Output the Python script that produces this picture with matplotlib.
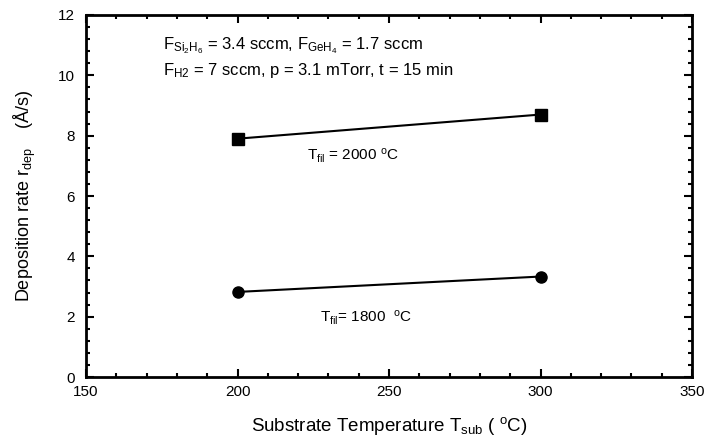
import matplotlib
matplotlib.use("Agg")
import matplotlib.pyplot as plt
from matplotlib.ticker import MultipleLocator

plt.rcParams['font.family'] = ['Liberation Sans', 'DejaVu Sans']
plt.rcParams['mathtext.fontset'] = 'custom'
plt.rcParams['mathtext.rm'] = 'Liberation Sans'
plt.rcParams['mathtext.it'] = 'Liberation Sans:italic'
plt.rcParams['mathtext.bf'] = 'Liberation Sans:bold'

t_sub = [200, 300]
rate_2000 = [7.9, 8.7]
rate_1800 = [2.82, 3.33]

fig = plt.figure(figsize=(7.04, 4.4), dpi=100)
ax = fig.add_axes([86/704, 1-377/440, (692-86)/704, (377-15)/440])

ax.plot(t_sub, rate_2000, color='black', lw=1.5, marker='s', ms=8, mfc='black', mec='black')
ax.plot(t_sub, rate_1800, color='black', lw=1.5, marker='o', ms=8, mfc='black', mec='black')

ax.set_xlim(150, 350)
ax.set_ylim(0, 12)
ax.xaxis.set_major_locator(MultipleLocator(50))
ax.xaxis.set_minor_locator(MultipleLocator(10))
ax.yaxis.set_major_locator(MultipleLocator(2))
ax.yaxis.set_minor_locator(MultipleLocator(0.4))
ax.tick_params(which='both', direction='in', top=True, right=True, width=1.5, labelsize=11)
ax.tick_params(which='major', length=6)
ax.tick_params(which='minor', length=3)
ax.tick_params(axis='x', pad=6)
ax.tick_params(axis='y', pad=8)
for s in ax.spines.values():
    s.set_linewidth(2)

ax.set_xlabel(r'Substrate Temperature T$_{\mathregular{sub}}$ ( $^{\mathregular{o}}$C)', fontsize=13.5, labelpad=11)
ax.set_ylabel(r'Deposition rate r$_{\mathregular{dep}}$    (Å/s)', fontsize=13, labelpad=14)

def fx(px):
    return px/704
def fy(py):
    return 1-py/440

fig.text(fx(163), fy(46), r'F$_{\mathregular{Si_2H_6}}$ = 3.4 sccm, F$_{\mathregular{GeH_4}}$ = 1.7 sccm',
         fontsize=12, va='center', ha='left')
fig.text(fx(163), fy(70), r'F$_{\mathregular{H2}}$ = 7 sccm, p = 3.1 mTorr, t = 15 min',
         fontsize=12, va='center', ha='left')
fig.text(fx(307), fy(156), r'T$_{\mathregular{fil}}$ = 2000 $^{\mathregular{o}}$C',
         fontsize=11, va='center', ha='left')
fig.text(fx(320), fy(318), r'T$_{\mathregular{fil}}$= 1800  $^{\mathregular{o}}$C',
         fontsize=11, va='center', ha='left')

fig.savefig('out.png', dpi=100)
